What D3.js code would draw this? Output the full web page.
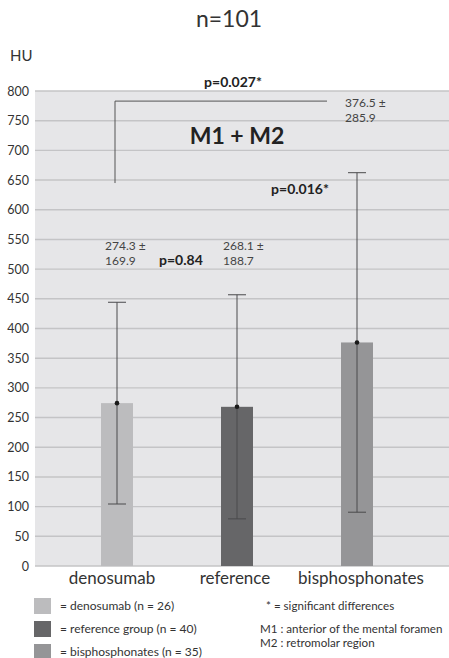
<!DOCTYPE html>
<html>
<head>
<meta charset="utf-8">
<script src="https://cdn.jsdelivr.net/npm/d3@7"></script>
<style>
  html, body { margin: 0; padding: 0; background: #fff; }
  svg { display: block; font-family: Lato, "Open Sans", sans-serif; }
</style>
</head>
<body>
<svg id="chart" width="449" height="658"></svg>
<script>
// Mean HU (M1 + M2) per group with standard deviation
const categories = ["denosumab", "reference", "bisphosphonates"];
const means = [274.3, 268.1, 376.5];
const sds = [169.9, 188.7, 285.9];
const barColors = ["#bcbcbe", "#666668", "#959597"];
const yTicks = [0, 50, 100, 150, 200, 250, 300, 350, 400, 450, 500, 550, 600, 650, 700, 750, 800];

const legendLabels = ["= denosumab (n = 26)", "= reference group (n = 40)", "= bisphosphonates (n = 35)"];
const notes = ["* = significant differences", "M1 : anterior of the mental foramen", "M2 : retromolar region"];

const svg = d3.select("#chart");

const plot = { left: 35, right: 449, top: 91, bottom: 566 };

const y = d3.scaleLinear().domain([0, 800]).range([plot.bottom, plot.top]);
const x = d3.scaleBand().domain(categories).range([57, 417]).paddingInner(0).paddingOuter(0);
const barW = 32;
const capW = 18;

// Title and axis unit
svg.append("text").attr("x", 229).attr("y", 27).attr("text-anchor", "middle")
  .attr("font-size", 23).attr("fill", "#333").text("n=101");
svg.append("text").attr("x", 10).attr("y", 61)
  .attr("font-size", 15).attr("fill", "#333").text("HU");

// Plot background
svg.append("rect").attr("x", plot.left).attr("y", plot.top)
  .attr("width", plot.right - plot.left).attr("height", plot.bottom - plot.top)
  .attr("fill", "#e6e6e8");

// Gridlines
svg.append("g").selectAll("line").data(yTicks).join("line")
  .attr("x1", plot.left).attr("x2", plot.right)
  .attr("y1", d => y(d)).attr("y2", d => y(d))
  .attr("stroke", "#c4c4c6").attr("stroke-width", 1.4);

// Y axis labels
const yAxis = d3.axisLeft(y).tickValues(yTicks).tickSize(0).tickPadding(6);
const gy = svg.append("g").attr("transform", `translate(${plot.left},0)`).call(yAxis);
gy.select(".domain").remove();
gy.selectAll("text").attr("font-size", 12.5).attr("fill", "#333")
  .attr("font-family", "Lato, sans-serif");

// Bars
svg.append("g").selectAll("rect").data(categories).join("rect")
  .attr("x", d => x(d) + x.bandwidth() / 2 - barW / 2)
  .attr("width", barW)
  .attr("y", (d, i) => y(means[i]))
  .attr("height", (d, i) => y(0) - y(means[i]))
  .attr("fill", (d, i) => barColors[i]);

// Error bars
const eb = svg.append("g").attr("stroke", "#4a4a4c").attr("stroke-width", 1);
categories.forEach((c, i) => {
  const cx = x(c) + x.bandwidth() / 2;
  const hi = y(means[i] + sds[i]);
  const lo = y(means[i] - sds[i]);
  eb.append("line").attr("x1", cx).attr("x2", cx).attr("y1", hi).attr("y2", lo);
  eb.append("line").attr("x1", cx - capW / 2).attr("x2", cx + capW / 2).attr("y1", hi).attr("y2", hi);
  eb.append("line").attr("x1", cx - capW / 2).attr("x2", cx + capW / 2).attr("y1", lo).attr("y2", lo);
  svg.append("circle").attr("cx", cx).attr("cy", y(means[i])).attr("r", 2.3).attr("fill", "#1a1a1a");
});

// Value labels (mean ± SD)
const valPos = [[105, 250], [223, 250], [345, 107]];
categories.forEach((c, i) => {
  const t = svg.append("text").attr("font-size", 12).attr("fill", "#444");
  t.append("tspan").attr("x", valPos[i][0]).attr("y", valPos[i][1]).text(`${means[i]} ±`);
  t.append("tspan").attr("x", valPos[i][0]).attr("y", valPos[i][1] + 15).text(`${sds[i]}`);
});

// Significance bracket between denosumab and bisphosphonates
const bx0 = x("denosumab") + x.bandwidth() / 2 - 2;
svg.append("path")
  .attr("d", `M${bx0},${y(645)} V${y(783)} H327`)
  .attr("fill", "none").attr("stroke", "#555").attr("stroke-width", 1);

svg.append("text").attr("x", 233).attr("y", 87).attr("text-anchor", "middle")
  .attr("font-size", 14).attr("font-weight", "bold").attr("fill", "#222").text("p=0.027*");
svg.append("text").attr("x", 237).attr("y", 144).attr("text-anchor", "middle")
  .attr("font-size", 23).attr("font-weight", "bold").attr("fill", "#222").text("M1 + M2");
svg.append("text").attr("x", 300).attr("y", 194).attr("text-anchor", "middle")
  .attr("font-size", 14).attr("font-weight", "bold").attr("fill", "#222").text("p=0.016*");
svg.append("text").attr("x", 159).attr("y", 265)
  .attr("font-size", 14).attr("font-weight", "bold").attr("fill", "#222").text("p=0.84");

// Category labels
const catX = [112, 235, 361];
svg.append("g").selectAll("text").data(categories).join("text")
  .attr("x", (d, i) => catX[i]).attr("y", 584).attr("text-anchor", "middle")
  .attr("font-size", 17).attr("fill", "#333").text(d => d);

// Legend
const lg = svg.append("g");
legendLabels.forEach((l, i) => {
  const ly = 598 + i * 23;
  lg.append("rect").attr("x", 34).attr("y", ly).attr("width", 17).attr("height", 16)
    .attr("fill", barColors[i]);
  lg.append("text").attr("x", 60).attr("y", ly + 12).attr("font-size", 12)
    .attr("fill", "#333").text(l);
});

// Notes
const noteY = [610, 633, 647];
const noteX = [266, 260, 260];
notes.forEach((n, i) => {
  svg.append("text").attr("x", noteX[i]).attr("y", noteY[i]).attr("font-size", 11.6)
    .attr("fill", "#333").text(n);
});
</script>
</body>
</html>
